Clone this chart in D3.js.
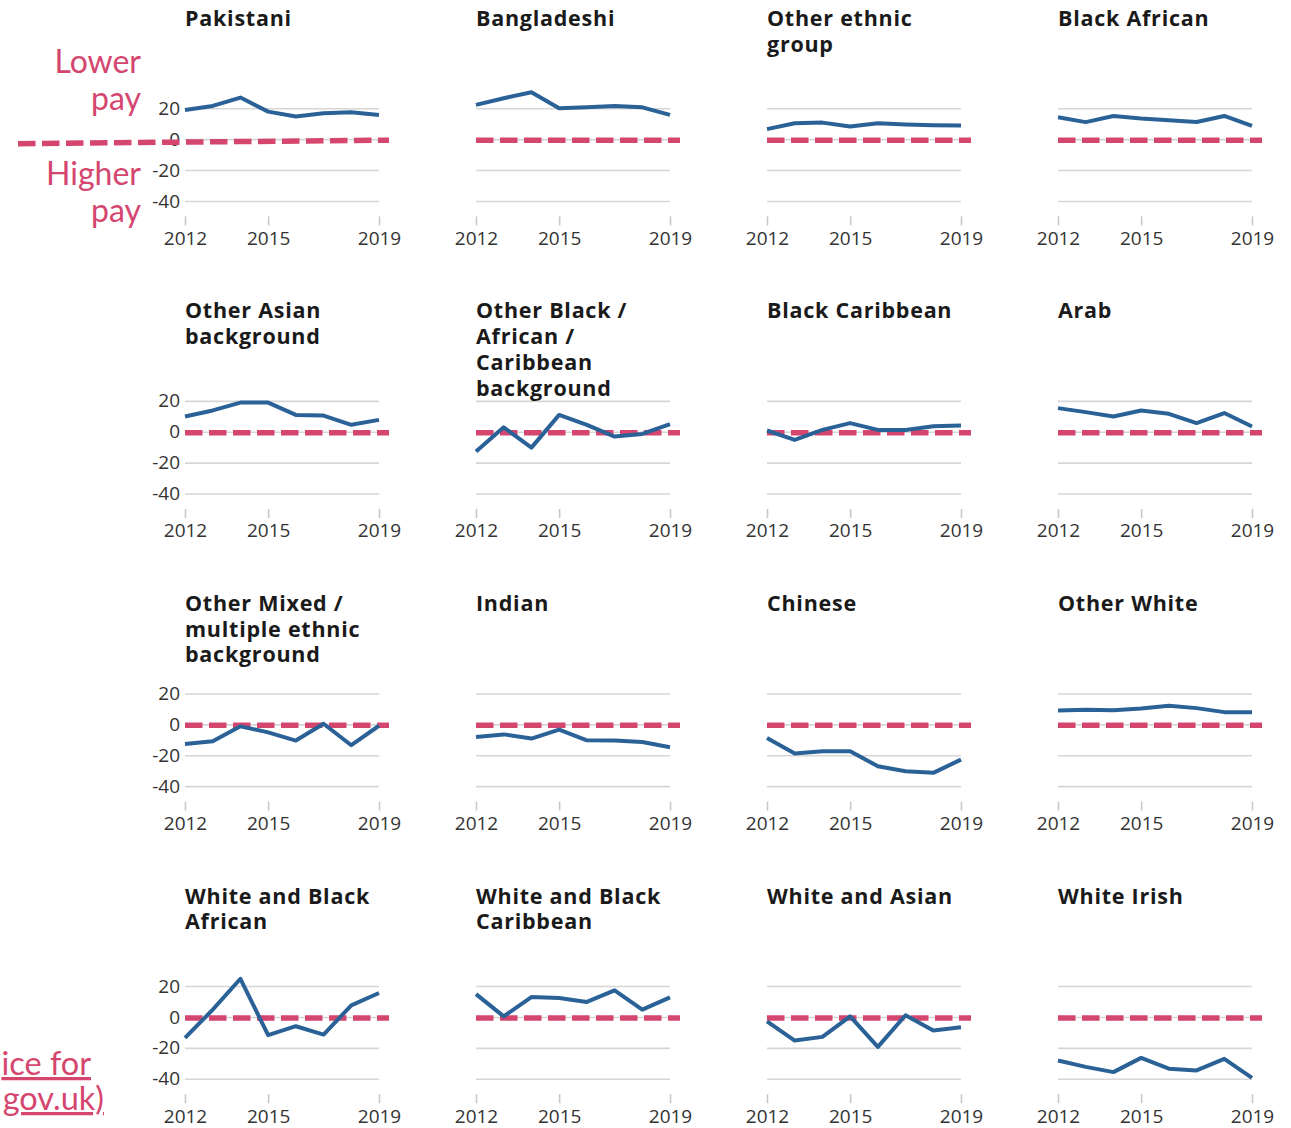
<!DOCTYPE html>
<html>
<head>
<meta charset="utf-8">
<script src="https://cdn.jsdelivr.net/npm/d3@7"></script>
<style>
  html, body { margin: 0; padding: 0; background: #fff; }
  svg { display: block; }
</style>
</head>
<body>
<svg id="chart" width="1291" height="1128"></svg>
<script>
// ---------- DATA ----------
const years = [2012, 2013, 2014, 2015, 2016, 2017, 2018, 2019];
const xTickYears = [2012, 2015, 2019];
const yTickValues = [20, 0, -20, -40];

const categories = [
  "Pakistani", "Bangladeshi", "Other ethnic group", "Black African",
  "Other Asian background", "Other Black / African / Caribbean background", "Black Caribbean", "Arab",
  "Other Mixed / multiple ethnic background", "Indian", "Chinese", "Other White",
  "White and Black African", "White and Black Caribbean", "White and Asian", "White Irish"
];

const pakistani        = [18.9, 21.5, 26.9, 17.8, 14.6, 16.8, 17.4, 15.7];
const bangladeshi      = [22.2, 26.5, 30.4, 20.0, 20.6, 21.5, 20.6, 15.7];
const otherEthnic      = [6.5, 10.3, 10.7, 8.2, 10.3, 9.5, 9.0, 8.8];
const blackAfrican     = [14.2, 11.0, 15.0, 13.4, 12.3, 11.1, 15.0, 8.6];
const otherAsian       = [9.9, 13.8, 18.9, 18.9, 10.9, 10.5, 4.5, 7.7];
const otherBlack       = [-12.8, 2.9, -10.3, 10.9, 4.5, -3.1, -1.4, 4.9];
const blackCaribbean   = [0.8, -5.3, 1.2, 5.6, 1.2, 1.2, 3.5, 4.1];
const arab             = [15.3, 12.7, 9.9, 13.8, 11.6, 5.6, 12.1, 3.4];
const otherMixed       = [-12.7, -11.0, -1.3, -5.2, -10.5, 0.4, -13.5, -0.9];
const indian           = [-8.2, -6.5, -9.2, -3.4, -10.3, -10.5, -11.4, -14.8];
const chinese          = [-8.8, -18.9, -17.4, -17.4, -27.1, -30.3, -31.4, -22.8];
const otherWhite       = [9.0, 9.5, 9.2, 10.3, 12.0, 10.5, 7.9, 7.9];
const whiteBlackAfr    = [-13.5, 4.7, 24.7, -11.8, -6.0, -11.4, 7.5, 15.5];
const whiteBlackCar    = [14.8, 0.4, 12.9, 12.3, 9.7, 17.2, 4.7, 12.7];
const whiteAsian       = [-2.8, -15.3, -12.9, 0.4, -19.4, 1.1, -8.8, -6.7];
const whiteIrish       = [-28.2, -32.3, -35.7, -26.5, -33.5, -34.6, -27.1, -39.4];

const seriesValues = [
  pakistani, bangladeshi, otherEthnic, blackAfrican,
  otherAsian, otherBlack, blackCaribbean, arab,
  otherMixed, indian, chinese, otherWhite,
  whiteBlackAfr, whiteBlackCar, whiteAsian, whiteIrish
];

const annotationTop = ["Lower", "pay"];
const annotationBottom = ["Higher", "pay"];
// visible part of the source link (cut off at the left edge in the original)
const sourceLines = ["ice for", "gov.uk)"];

// ---------- LAYOUT ----------
const PINK = "#d5466f";
const BLUE = "#2a6297";
const GRID = "#d6d6d6";
const nCols = 4;
const colX0 = 185, colStep = 291;
const rowY0 = 92.8, rowStep = 292.6;
const plotW = 194, plotH = 123.6;

const svg = d3.select("#chart");

const x = d3.scaleLinear().domain([2012, 2019]).range([0, plotW]);
const y = d3.scaleLinear().domain([-50, 30]).range([plotH, 0]);

const line = d3.line()
  .x((d, i) => x(years[i]))
  .y(d => y(d));

categories.forEach((cat, idx) => {
  const c = idx % nCols, r = Math.floor(idx / nCols);
  const g = svg.append("g")
    .attr("transform", `translate(${colX0 + c * colStep},${rowY0 + r * rowStep})`);

  // y grid + labels
  const yAxis = d3.axisLeft(y).tickValues(yTickValues).tickSize(-plotW).tickPadding(5)
    .tickFormat(d => String(d));
  const ya = g.append("g").attr("class", "yaxis").call(yAxis);
  ya.select(".domain").remove();
  ya.selectAll(".tick line").attr("stroke", GRID).attr("stroke-width", 1.6);
  ya.selectAll(".tick text")
    .attr("fill", "#333")
    .style("font-family", "'Open Sans', sans-serif")
    .style("font-size", "19px");
  if (c !== 0) ya.selectAll(".tick text").remove();

  // x axis
  const xAxis = d3.axisBottom(x).tickValues(xTickYears).tickSize(9).tickPadding(6)
    .tickFormat(d => String(d));
  const xa = g.append("g").attr("transform", `translate(0,${plotH})`).call(xAxis);
  xa.select(".domain").remove();
  xa.selectAll(".tick line").attr("stroke", "#c8c8c8").attr("stroke-width", 1.6);
  xa.selectAll(".tick text")
    .attr("fill", "#333")
    .style("font-family", "'Open Sans', sans-serif")
    .style("font-size", "19px");

  // zero dashed reference line
  const x1 = idx === 0 ? 18 - colX0 : 0;
  g.append("line")
    .attr("x1", x1).attr("x2", plotW + 10)
    .attr("y1", idx === 0 ? y(0) + 4.5 : y(0) + 1).attr("y2", y(0) + 1)
    .attr("stroke", PINK).attr("stroke-width", 5.5)
    .attr("stroke-dasharray", "17.5,6.5");

  // data line
  g.append("path")
    .datum(seriesValues[idx])
    .attr("d", line)
    .attr("fill", "none")
    .attr("stroke", BLUE)
    .attr("stroke-width", 4)
    .attr("stroke-linejoin", "round");

  // title (wrapped)
  const title = g.append("text")
    .attr("x", 0).attr("y", -67)
    .attr("fill", "#1a1a1a")
    .style("font-family", "'Open Sans', sans-serif")
    .style("font-weight", "700")
    .style("font-size", "21.5px")
    .style("letter-spacing", "0.75px");
  const words = cat.split(" ");
  let lines = [], cur = [];
  const probe = title.append("tspan");
  words.forEach(w => {
    const test = cur.concat([w]).join(" ");
    probe.text(test);
    if (cur.length && probe.node().getComputedTextLength() > 205) {
      lines.push(cur.join(" "));
      cur = [w];
    } else cur.push(w);
  });
  lines.push(cur.join(" "));
  probe.remove();
  lines.forEach((l, i) => {
    title.append("tspan").attr("x", 0).attr("dy", i === 0 ? 0 : 25.7).text(l);
  });
});

// annotation texts
const ann = svg.append("g")
  .style("font-family", "Lato, sans-serif")
  .style("font-size", "32px")
  .attr("fill", PINK)
  .attr("text-anchor", "end");
annotationTop.forEach((t, i) => ann.append("text").attr("x", 141).attr("y", 73 + i * 37).text(t));
annotationBottom.forEach((t, i) => ann.append("text").attr("x", 141).attr("y", 185 + i * 37).text(t));

// source text
const src = svg.append("g")
  .style("font-family", "Lato, sans-serif")
  .style("font-size", "32.5px")
  .style("text-decoration", "underline")
  .attr("fill", PINK)
  .attr("text-anchor", "end");
src.append("text").attr("x", 91).attr("y", 1075).text(sourceLines[0]);
src.append("text").attr("x", 104).attr("y", 1110).text(sourceLines[1]);
</script>
</body>
</html>
